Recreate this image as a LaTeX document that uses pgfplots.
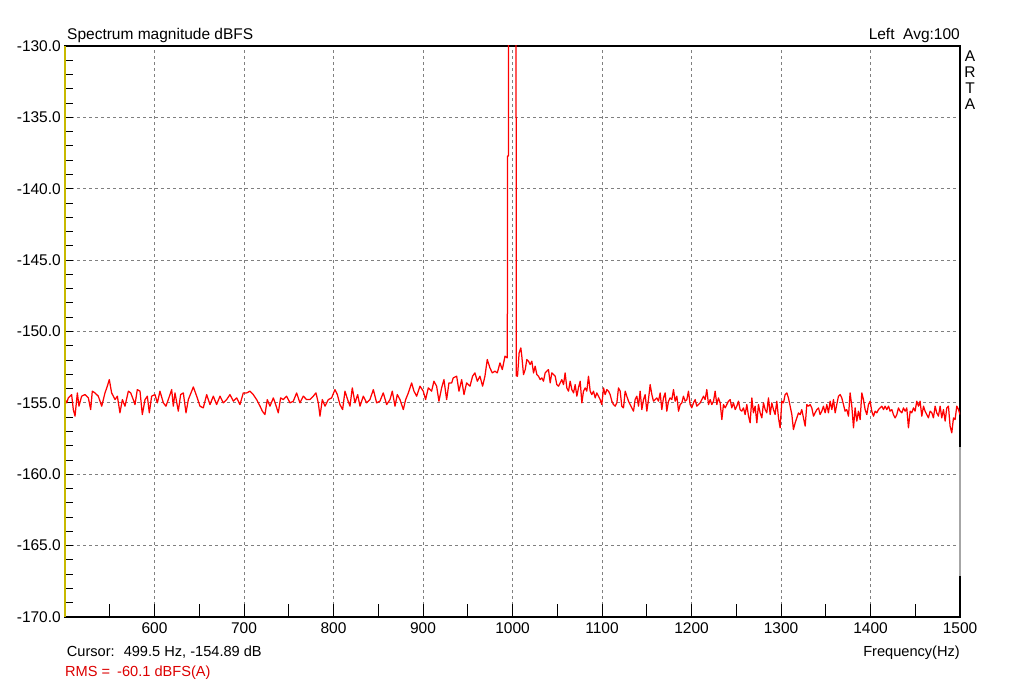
\documentclass[border=0pt]{standalone}
\usepackage{fontspec}
\setmainfont{Liberation Sans}
\usepackage{pgfplots}
\usetikzlibrary{calc}
\pgfplotsset{compat=1.18}
\definecolor{axyellow}{RGB}{200,185,0}
\definecolor{gridgray}{RGB}{128,128,128}
\definecolor{rmsred}{RGB}{220,0,0}
\begin{document}
\begin{tikzpicture}[font=\fontsize{15.5}{18}\selectfont]
\useasboundingbox (-65pt,-63pt) rectangle (959pt,617pt);
\begin{axis}[
  name=ax,
  at={(0pt,0pt)}, anchor=south west,
  scale only axis, width=895pt, height=571pt,
  xmin=500, xmax=1500, ymin=-170, ymax=-130,
  axis line style={black, line width=1.3pt},
  xtick={600,700,...,1400},
  minor xtick={550,650,...,1450},
  extra x ticks={1500},
  extra x tick style={grid=none, xtick style={draw=none}},
  ytick={-170,-165,...,-130},
  minor ytick={-169,-168,...,-131},
  tick pos=left,
  tick align=inside,
  xtick style={/pgfplots/major tick length=13pt, /pgfplots/minor tick length=13pt, black, line width=0.9pt},
  ytick style={/pgfplots/major tick length=8pt, /pgfplots/minor tick length=8pt, black, line width=0.9pt},
  xmajorgrids, ymajorgrids,
  major grid style={gridgray, line width=0.9pt, dash pattern=on 3pt off 3pt},
  /pgf/number format/assume math mode=true,
  xticklabel style={inner sep=0pt, anchor=north, yshift=-5.5pt, /pgf/number format/1000 sep={}},
  yticklabel style={inner sep=0pt, anchor=east, xshift=-4pt, /pgf/number format/fixed, /pgf/number format/fixed zerofill, /pgf/number format/precision=1},
  clip=true,
]
\addplot[red, line width=1.25pt, line join=round, mark=none] coordinates {
(500.0,-154.77) (501.9,-155.00) (503.7,-154.65) (507.4,-154.42) (509.3,-155.47)
(511.2,-155.93) (513.8,-154.30) (515.6,-155.23) (518.6,-154.53) (522.3,-154.42)
(526.1,-154.65) (528.7,-155.47) (530.5,-154.18) (533.5,-154.30) (537.2,-154.53)
(541.0,-155.23) (544.7,-154.30) (547.3,-153.83) (549.5,-153.37) (552.1,-154.30)
(555.9,-154.77) (558.5,-154.53) (561.4,-155.70) (564.1,-154.77) (567.0,-155.23)
(570.8,-154.18) (573.4,-154.30) (576.3,-154.77) (578.2,-155.12) (580.8,-154.07)
(583.8,-154.18) (586.4,-155.82) (589.4,-154.77) (592.0,-154.53) (594.2,-155.70)
(596.8,-154.53) (600.5,-154.42) (603.2,-155.00) (606.1,-154.18) (609.9,-155.00)
(612.8,-155.23) (615.4,-154.77) (619.2,-154.07) (621.0,-155.23) (622.9,-154.30)
(626.6,-155.58) (629.2,-154.42) (632.2,-154.30) (635.2,-155.70) (637.8,-154.77)
(640.8,-154.30) (643.4,-153.88) (647.1,-154.53) (650.8,-155.23) (654.5,-155.35)
(658.3,-154.42) (662.0,-155.12) (665.7,-154.53) (669.4,-155.12) (673.2,-154.53)
(676.9,-155.00) (680.6,-154.77) (684.3,-154.42) (688.1,-154.88) (691.8,-154.65)
(695.5,-155.12) (699.2,-154.30) (703.0,-154.30) (706.7,-154.18) (710.4,-154.42)
(714.1,-154.77) (717.9,-155.23) (720.5,-155.58) (723.4,-155.82) (726.0,-154.77)
(729.0,-155.23) (732.8,-154.65) (735.4,-155.12) (738.3,-155.70) (740.9,-154.65)
(743.9,-154.77) (747.6,-154.53) (751.4,-155.00) (755.1,-154.88) (758.8,-154.30)
(762.5,-155.00) (766.3,-154.53) (770.0,-154.77) (773.7,-154.77) (777.4,-154.53)
(780.4,-154.30) (783.0,-155.00) (784.9,-155.93) (787.5,-154.77) (790.5,-155.23)
(794.2,-154.77) (797.9,-154.65) (801.6,-154.07) (804.3,-154.42) (807.2,-155.12)
(810.2,-155.47) (812.8,-154.18) (815.8,-154.77) (818.4,-155.23) (821.0,-153.95)
(824.0,-155.00) (827.0,-154.42) (829.6,-155.23) (833.3,-154.53) (837.0,-155.00)
(840.7,-154.77) (844.5,-154.07) (848.2,-155.00) (851.9,-154.88) (855.6,-154.30)
(859.4,-155.12) (863.1,-154.77) (865.7,-154.18) (868.7,-155.23) (871.3,-154.42)
(874.3,-154.77) (878.0,-155.47) (880.6,-154.77) (883.6,-154.30) (887.3,-153.60)
(889.9,-154.18) (892.9,-154.53) (896.6,-153.83) (900.3,-154.18) (902.9,-154.77)
(905.9,-153.95) (909.6,-154.18) (912.2,-153.48) (915.2,-153.83) (917.8,-154.88)
(920.8,-153.95) (923.4,-153.37) (926.4,-154.77) (929.0,-153.60) (932.0,-153.60)
(933.8,-153.25) (937.6,-153.13) (940.2,-154.18) (943.2,-153.37) (945.8,-154.42)
(948.7,-153.60) (952.5,-153.83) (955.4,-153.13) (958.0,-152.90) (960.7,-153.48)
(963.6,-153.13) (966.6,-153.83) (969.2,-153.13) (971.8,-151.96) (974.8,-152.55)
(977.4,-152.90) (980.4,-152.78) (983.0,-152.90) (986.0,-152.20) (988.6,-152.67)
(991.6,-151.73) (994.2,-151.85) (994.5,-137.70) (995.6,-137.70) (995.8,-60.00)
(1003.8,-60.00) (1004.1,-153.10)
(1005.6,-153.13) (1007.4,-151.50) (1009.3,-151.15) (1010.4,-151.73) (1012.3,-153.02)
(1014.2,-152.67) (1016.0,-151.96) (1017.9,-152.08) (1019.7,-152.31) (1021.6,-152.08)
(1023.5,-152.90) (1025.3,-152.43) (1027.2,-153.02) (1029.0,-153.13) (1030.9,-153.37)
(1032.8,-153.25) (1034.6,-153.48) (1036.5,-152.90) (1038.4,-152.78) (1040.2,-152.67)
(1042.1,-153.60) (1043.9,-152.90) (1045.8,-153.02) (1047.7,-153.13) (1049.5,-153.72)
(1051.4,-153.83) (1053.3,-153.60) (1055.1,-153.37) (1057.0,-153.72) (1058.8,-152.90)
(1060.7,-153.95) (1062.6,-154.18) (1064.4,-153.48) (1066.3,-154.07) (1068.2,-154.30)
(1070.0,-153.72) (1071.9,-154.53) (1073.7,-153.95) (1075.6,-153.48) (1077.5,-155.00)
(1079.3,-154.18) (1081.2,-153.95) (1083.0,-154.18) (1084.9,-153.13) (1086.8,-154.18)
(1088.6,-154.42) (1090.5,-154.18) (1092.4,-154.65) (1094.2,-154.30) (1096.1,-154.53)
(1097.9,-154.77) (1099.8,-155.12) (1101.7,-153.95) (1103.5,-154.42) (1105.4,-154.07)
(1107.3,-154.18) (1109.1,-154.42) (1111.0,-154.88) (1112.8,-155.12) (1114.7,-155.23)
(1116.6,-155.00) (1118.4,-153.95) (1120.3,-154.18) (1122.1,-155.23) (1124.0,-155.35)
(1125.9,-154.18) (1127.7,-154.53) (1129.6,-154.88) (1131.5,-155.12) (1133.3,-155.35)
(1135.2,-155.58) (1137.0,-154.77) (1138.9,-154.53) (1140.8,-155.23) (1142.6,-154.18)
(1144.5,-155.47) (1146.4,-154.77) (1148.2,-154.42) (1150.1,-155.58) (1151.9,-154.77)
(1153.8,-153.72) (1155.7,-154.42) (1157.5,-154.88) (1159.4,-154.77) (1161.2,-154.65)
(1163.1,-154.88) (1165.0,-154.30) (1166.8,-155.47) (1168.7,-154.65) (1170.6,-154.30)
(1172.4,-155.58) (1174.3,-154.88) (1176.1,-154.65) (1178.0,-154.77) (1179.9,-154.07)
(1181.7,-154.88) (1183.6,-154.53) (1185.5,-155.58) (1187.3,-155.12) (1189.2,-155.00)
(1191.0,-154.53) (1192.9,-154.88) (1194.8,-154.77) (1196.6,-154.18) (1198.5,-155.12)
(1200.3,-155.35) (1202.2,-155.00) (1204.1,-154.77) (1205.9,-155.23) (1207.8,-155.12)
(1209.7,-155.00) (1211.5,-154.77) (1213.4,-154.53) (1215.2,-154.77) (1217.1,-154.07)
(1219.0,-155.12) (1220.8,-154.77) (1222.7,-155.12) (1224.6,-154.88) (1226.4,-154.18)
(1228.3,-155.12) (1230.1,-154.65) (1232.0,-155.00) (1233.9,-156.17) (1235.7,-155.12)
(1237.6,-155.35) (1239.4,-155.12) (1241.3,-154.88) (1243.2,-154.77) (1245.0,-155.35)
(1246.9,-155.00) (1248.8,-155.47) (1250.6,-155.23) (1252.5,-154.88) (1254.3,-155.47)
(1256.2,-155.58) (1258.1,-155.35) (1259.9,-155.82) (1261.8,-155.12) (1263.7,-155.93)
(1265.5,-156.40) (1267.4,-154.65) (1269.2,-155.70) (1271.1,-155.23) (1273.0,-156.40)
(1274.8,-155.12) (1276.7,-155.70) (1278.6,-156.05) (1280.4,-155.00) (1282.3,-155.47)
(1284.1,-155.70) (1286.0,-154.65) (1287.9,-155.82) (1289.7,-155.00) (1291.6,-155.47)
(1293.4,-155.82) (1295.3,-154.88) (1297.2,-156.05) (1299.0,-156.75) (1300.9,-154.88)
(1302.8,-155.00) (1304.6,-154.42) (1306.5,-154.30) (1308.3,-154.65) (1310.2,-155.23)
(1312.1,-155.82) (1313.9,-156.87) (1315.8,-156.40) (1317.7,-156.05) (1319.5,-155.70)
(1321.4,-155.82) (1323.2,-155.47) (1325.1,-156.05) (1327.0,-156.63) (1328.8,-155.12)
(1330.7,-155.23) (1332.5,-155.12) (1334.4,-155.35) (1336.3,-155.93) (1338.1,-155.70)
(1340.0,-155.47) (1341.9,-155.35) (1343.7,-155.82) (1345.6,-155.58) (1347.4,-155.23)
(1349.3,-155.70) (1351.2,-155.12) (1353.0,-155.70) (1354.9,-154.88) (1356.8,-155.47)
(1358.6,-154.77) (1360.5,-155.70) (1362.3,-155.12) (1364.2,-154.53) (1366.1,-154.42)
(1367.9,-154.65) (1369.8,-155.12) (1371.6,-155.58) (1373.5,-155.47) (1375.4,-155.93)
(1377.2,-154.30) (1379.1,-155.23) (1381.0,-156.75) (1382.8,-155.35) (1384.7,-156.28)
(1386.5,-155.58) (1388.4,-156.17) (1390.3,-154.30) (1392.1,-154.77) (1394.0,-155.47)
(1395.9,-155.82) (1397.7,-155.12) (1399.6,-154.88) (1401.4,-155.58) (1403.3,-155.93)
(1405.2,-155.58) (1407.0,-155.70) (1408.9,-155.47) (1410.7,-155.35) (1412.6,-155.23)
(1414.5,-155.47) (1416.3,-155.23) (1418.2,-155.47) (1420.1,-155.23) (1421.9,-155.58)
(1423.8,-155.47) (1425.6,-155.82) (1427.5,-156.05) (1429.4,-155.82) (1431.2,-155.35)
(1433.1,-155.58) (1435.0,-155.70) (1436.8,-155.35) (1438.7,-155.58) (1440.5,-155.35)
(1442.4,-156.75) (1444.3,-155.58) (1446.1,-155.70) (1448.0,-155.35) (1449.8,-155.58)
(1451.7,-154.88) (1453.6,-155.23) (1455.4,-154.88) (1457.3,-155.93) (1459.2,-155.23)
(1461.0,-155.58) (1462.9,-155.82) (1464.7,-156.05) (1466.6,-155.58) (1468.5,-155.70)
(1470.3,-156.05) (1472.2,-155.23) (1474.0,-155.70) (1475.9,-155.93) (1477.8,-155.23)
(1479.6,-156.05) (1481.5,-155.47) (1483.4,-156.28) (1485.2,-155.35) (1487.1,-155.23)
(1488.9,-156.63) (1490.8,-157.10) (1492.7,-156.05) (1494.5,-156.17) (1496.4,-155.23)
(1498.3,-155.47) (1500.0,-155.82)
};
\end{axis}
\draw[axyellow, line width=1.6pt] (ax.south west) -- (ax.north west);
\draw[gray!70, line width=1.3pt] ($(ax.south east)!0.0725!(ax.north east)$) -- ($(ax.south east)!0.2975!(ax.north east)$);
\node[anchor=base west, inner sep=0pt] at (2pt,577pt) {Spectrum magnitude dBFS};
\node[anchor=base east, inner sep=0pt] at (895pt,577pt) {Left\ \ Avg:100};
\node[anchor=base, inner sep=0pt] at (905pt,555.3pt) {A};
\node[anchor=base, inner sep=0pt] at (905pt,539.5pt) {R};
\node[anchor=base, inner sep=0pt] at (905pt,523.7pt) {T};
\node[anchor=base, inner sep=0pt] at (905pt,507.9pt) {A};
\begin{scope}[font=\fontsize{14.6}{17}\selectfont]
\node[anchor=base east, inner sep=0pt] at (895pt,-39.7pt) {Frequency(Hz)};
\node[anchor=base west, inner sep=0pt] at (1.7pt,-39.7pt) {Cursor:\hspace{9pt}499.5 Hz, -154.89 dB};
\node[anchor=base west, inner sep=0pt, text=rmsred] at (0pt,-59.7pt) {RMS =\hspace{7pt}-60.1 dBFS(A)};
\end{scope}
\end{tikzpicture}
\end{document}
